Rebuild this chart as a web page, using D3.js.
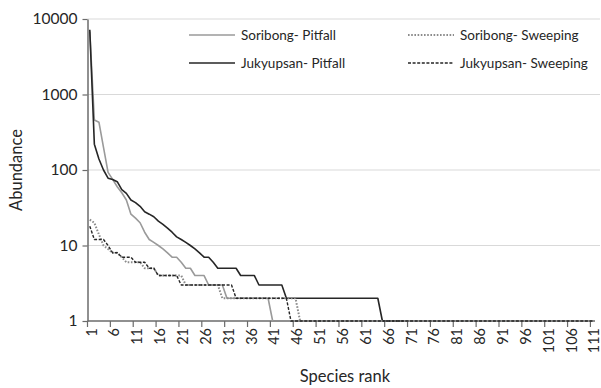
<!DOCTYPE html>
<html>
<head>
<meta charset="utf-8">
<script src="https://cdn.jsdelivr.net/npm/d3@7"></script>
<style>
  html, body { margin: 0; padding: 0; background: #fff; }
  svg { display: block; font-family: Lato, "Open Sans", sans-serif; }
</style>
</head>
<body>
<svg id="chart" width="601" height="388"></svg>
<script>
// ---- data ----
const seriesNames = ["Soribong- Pitfall", "Jukyupsan- Pitfall", "Soribong- Sweeping", "Jukyupsan- Sweeping"];

const soribongPitfall = [6800, 460, 430, 200, 93, 75, 60, 50, 40, 26, 23, 20, 15, 12, 11, 10, 9, 8, 7, 7,
  6, 5, 5, 4, 4, 4, 3, 3, 3, 3, 2, 2, 2, 2, 2, 2, 2, 2, 2, 2, 1];

const jukyupsanPitfall = [7200, 220, 140, 100, 78, 75, 70, 55, 49, 40, 37, 33, 28, 26, 24, 21, 19, 17, 15, 13,
  12, 11, 10, 9, 8, 7, 7, 6, 5, 5, 5, 5, 5, 4, 4, 4, 4, 3, 3, 3,
  3, 3, 3, 2, 2, 2, 2, 2, 2, 2, 2, 2, 2, 2, 2, 2, 2, 2, 2, 2,
  2, 2, 2, 2, 1, 1, 1, 1, 1, 1];

const soribongSweeping = [22, 20, 14, 10, 9, 8, 8, 7, 6, 6, 6, 6, 5, 5, 5, 4, 4, 4, 4, 4,
  4, 3, 3, 3, 3, 3, 3, 3, 3, 2, 2, 2, 2, 2, 2, 2, 2, 2, 2, 2,
  2, 2, 2, 2, 2, 2, 1, 1, 1, 1, 1, 1, 1, 1, 1, 1, 1, 1, 1, 1,
  1, 1, 1, 1, 1, 1, 1, 1, 1, 1, 1, 1, 1, 1, 1, 1, 1, 1, 1, 1,
  1, 1, 1, 1, 1, 1, 1, 1, 1, 1, 1, 1, 1, 1, 1, 1, 1, 1, 1, 1,
  1, 1, 1, 1, 1];

const jukyupsanSweeping = [18, 12, 12, 12, 10, 8, 8, 7, 7, 7, 6, 6, 6, 5, 5, 4, 4, 4, 4, 4,
  3, 3, 3, 3, 3, 3, 3, 3, 3, 3, 3, 3, 2, 2, 2, 2, 2, 2, 2, 2,
  2, 2, 2, 2, 1, 1, 1, 1, 1, 1, 1, 1, 1, 1, 1, 1, 1, 1, 1, 1,
  1, 1, 1, 1, 1, 1, 1, 1, 1, 1, 1, 1, 1, 1, 1, 1, 1, 1, 1, 1,
  1, 1, 1, 1, 1, 1, 1, 1, 1, 1, 1, 1, 1, 1, 1, 1, 1, 1, 1, 1,
  1, 1, 1, 1, 1, 1, 1, 1, 1, 1, 1];

const rankCount = 111;
const xTickLabels = [1, 6, 11, 16, 21, 26, 31, 36, 41, 46, 51, 56, 61, 66, 71, 76, 81, 86, 91, 96, 101, 106, 111];
const yTickValues = [1, 10, 100, 1000, 10000];
const xTitle = "Species rank";
const yTitle = "Abundance";

// ---- styles ----
const styles = [
  { color: "#9a9a9a", width: 1.6, dash: null },
  { color: "#262626", width: 1.6, dash: null },
  { color: "#8c8c8c", width: 2, dash: "1.6,1.6" },
  { color: "#262626", width: 1.4, dash: "3,1.6" }
];
const allSeries = [soribongPitfall, jukyupsanPitfall, soribongSweeping, jukyupsanSweeping];

// ---- layout ----
const svg = d3.select("#chart");
const mLeft = 87.5, mRight = 595, mTop = 19, mBottom = 321, gridRight = 600;

const x = d3.scaleLinear().domain([0.5, rankCount + 0.5]).range([mLeft, mRight]);
const y = d3.scaleLog().domain([1, 10000]).range([mBottom, mTop]);

// gridlines
svg.append("g").selectAll("line")
  .data(yTickValues.filter(v => v > 1))
  .join("line")
  .attr("x1", mLeft).attr("x2", gridRight)
  .attr("y1", d => y(d)).attr("y2", d => y(d))
  .attr("stroke", "#d9d9d9").attr("stroke-width", 1.2);

// y axis
const yAxis = d3.axisLeft(y).tickValues(yTickValues).tickFormat(d3.format("d")).tickSize(5).tickSizeOuter(0);
const gy = svg.append("g").attr("transform", `translate(${mLeft},0)`).call(yAxis);
gy.select(".domain").attr("stroke", "#6b6b6b").attr("stroke-width", 1.5);
gy.selectAll(".tick line").attr("stroke", "#6b6b6b").attr("stroke-width", 1.2);
gy.selectAll(".tick text").attr("x", -10).attr("font-size", 15.5).attr("fill", "#262626")
  .attr("font-family", "Lato, sans-serif");

// x axis ticks at category boundaries
const boundaries = xTickLabels.map(v => v - 0.5);
const gx = svg.append("g");
gx.append("line").attr("x1", mLeft).attr("x2", mRight).attr("y1", mBottom).attr("y2", mBottom)
  .attr("stroke", "#6b6b6b").attr("stroke-width", 1.5);
gx.selectAll("line.tk").data(boundaries).join("line").attr("class", "tk")
  .attr("x1", d => x(d)).attr("x2", d => x(d)).attr("y1", mBottom).attr("y2", mBottom + 6)
  .attr("stroke", "#6b6b6b").attr("stroke-width", 1.2);
gx.selectAll("text").data(xTickLabels).join("text")
  .attr("transform", d => `translate(${x(d) + 1.5},${mBottom + 7}) rotate(-90)`)
  .attr("text-anchor", "end").attr("dy", "0.36em")
  .attr("font-size", 14.5).attr("fill", "#262626")
  .text(d => d);

// lines
const line = d3.line().x((d, i) => x(i + 1)).y(d => y(d));
allSeries.forEach((s, k) => {
  const p = svg.append("path").datum(s)
    .attr("d", line)
    .attr("fill", "none")
    .attr("stroke", styles[k].color)
    .attr("stroke-width", styles[k].width)
    .attr("stroke-linejoin", "round");
  if (styles[k].dash) p.attr("stroke-dasharray", styles[k].dash);
});

// legend
const legendPos = [
  { lx: 189, ty: 35 }, { lx: 189, ty: 63 }, { lx: 408, ty: 35 }, { lx: 408, ty: 63 }
];
seriesNames.forEach((name, k) => {
  const g = svg.append("g");
  const l = g.append("line")
    .attr("x1", legendPos[k].lx).attr("x2", legendPos[k].lx + 46)
    .attr("y1", legendPos[k].ty).attr("y2", legendPos[k].ty)
    .attr("stroke", styles[k].color).attr("stroke-width", styles[k].width);
  if (styles[k].dash) l.attr("stroke-dasharray", styles[k].dash);
  g.append("text").attr("x", legendPos[k].lx + 52).attr("y", legendPos[k].ty)
    .attr("dy", "0.35em").attr("font-size", 13.5).attr("fill", "#262626").text(name);
});

// axis titles
svg.append("text").attr("x", 345).attr("y", 382).attr("text-anchor", "middle")
  .attr("font-size", 16.5).attr("fill", "#262626").text(xTitle);
svg.append("text").attr("transform", `translate(22,170) rotate(-90)`).attr("text-anchor", "middle")
  .attr("font-size", 16.5).attr("fill", "#262626").text(yTitle);
</script>
</body>
</html>
